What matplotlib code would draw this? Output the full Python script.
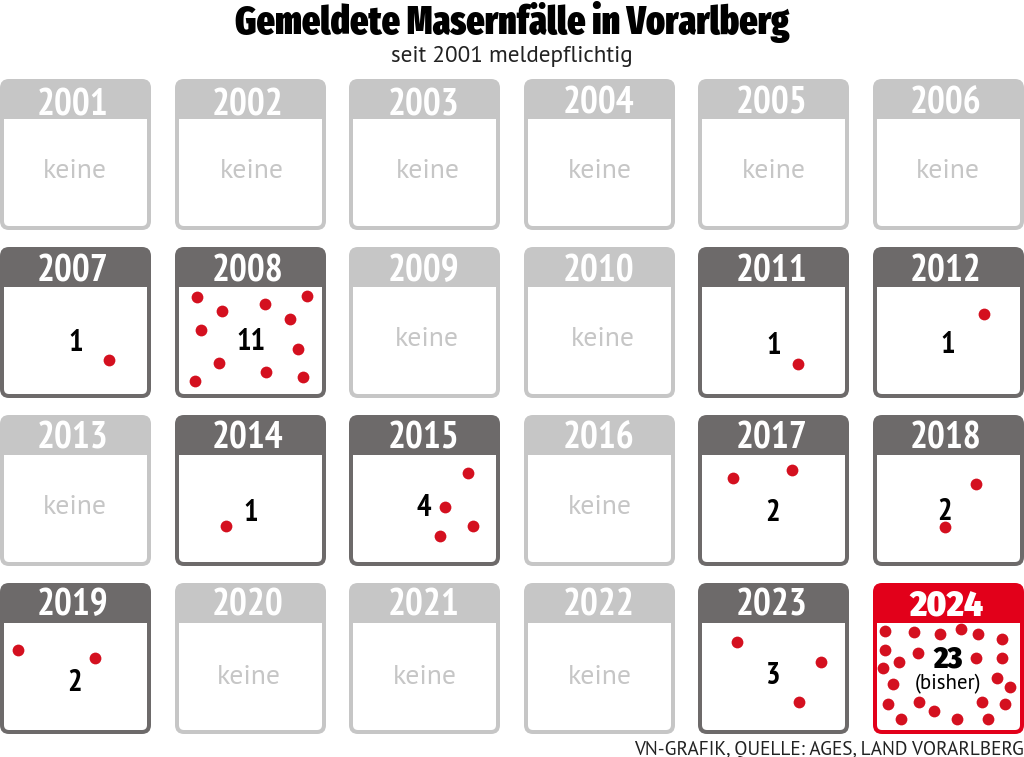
import matplotlib
matplotlib.use("Agg")
import matplotlib.pyplot as plt
from matplotlib.patches import FancyBboxPatch, Rectangle

# data
years = list(range(2001, 2025))
counts = [0,0,0,0,0,0, 1,11,0,0,1,1, 0,1,4,0,2,2, 2,0,0,0,3,23]

# dots (pixels), one list per year
dots_2007 = [(109,360)]
dots_2008 = [(197,297),(222,311),(265,304),(307,296),(290,319),(201,330),(298,349),(219,363),(266,372),(303,377),(195,381)]
dots_2011 = [(798,364)]
dots_2012 = [(984,314)]
dots_2014 = [(226,526)]
dots_2015 = [(468,473),(445,507),(473,526),(440,536)]
dots_2017 = [(733,478),(792,470)]
dots_2018 = [(976,484),(945,527)]
dots_2019 = [(18,650),(95,658)]
dots_2023 = [(737,642),(821,662),(799,702)]
dots_2024 = [(885,631),(914,632),(940,634),(961,629),(978,634),(1002,639),(885,650),(918,653),
             (976,658),(1002,658),(899,662),(883,668),(893,684),(997,678),(1010,687),(888,704),
             (919,702),(982,702),(1005,704),(934,711),(901,719),(957,719),(988,719)]
all_dots = {2007:dots_2007, 2008:dots_2008, 2011:dots_2011, 2012:dots_2012, 2014:dots_2014, 2015:dots_2015,
            2017:dots_2017, 2018:dots_2018, 2019:dots_2019, 2023:dots_2023, 2024:dots_2024}

# layout
card_left = [0, 175, 349, 524, 698, 873]
card_top = [79, 247, 415, 583]
card_w, card_h, head_h, border = 151, 151, 40, 4
year_x = [73, 248, 424, 599, 772, 946]
year_dy = [[23,23,23,21,21,21], [21,21,21,21,21,21], [20,20,20,20,20,20], [19,19,19,19,19,19]]
label_x = [75,252,428,600,774,948, 76,251,427,603,774,948, 75,251,424,600,773,945, 75,249,425,600,773,948]
label_y = [169,169,169,169,169,169, 340,339,337,337,343,342, 504,510,505,504,510,509, 680,674,674,674,673,656]

GRAY, DARK, RED = "#c6c6c6", "#6d6a6a", "#e2001a"
NARROW = ["PT Sans Narrow", "Roboto", "DejaVu Sans"]
BODY = ["PT Sans", "Lato", "DejaVu Sans"]
HEAVY = ["Fira Sans Extra Condensed", "Roboto", "DejaVu Sans"]
HEAVY_NUM = ["Fira Sans Condensed", "Roboto", "DejaVu Sans"]

fig = plt.figure(figsize=(10.24, 7.57), dpi=100)
ax = fig.add_axes([0, 0, 1, 1])
ax.set_xlim(0, 1024)
ax.set_ylim(757, 0)
ax.axis("off")

for i, year in enumerate(years):
    row, col = divmod(i, 6)
    x, y = card_left[col], card_top[row]
    n = counts[i]
    latest = year == 2024
    color = RED if latest else (DARK if n > 0 else GRAY)
    ax.add_patch(FancyBboxPatch((x+7, y+7), card_w-14, card_h-14, boxstyle="round,pad=7,rounding_size=9",
                                fc=color, ec="none", zorder=1))
    ax.add_patch(FancyBboxPatch((x+border+5, y+head_h+5), card_w-2*border-10, card_h-head_h-border-10,
                                boxstyle="round,pad=5,rounding_size=5", fc="white", ec="none", zorder=2))
    ax.add_patch(Rectangle((x+border, y+head_h), card_w-2*border, 10, fc="white", ec="none", zorder=2))
    ax.text(year_x[col], y+year_dy[row][col], str(year), color="white", fontsize=26 if latest else 27,
            fontweight=900 if latest else "bold", family=HEAVY_NUM if latest else NARROW,
            ha="center", va="center_baseline", zorder=4)
    if n == 0:
        ax.text(label_x[i], label_y[i], "keine", color=GRAY, fontsize=20, family=BODY,
                ha="center", va="center_baseline", zorder=4)
    else:
        ax.text(label_x[i], label_y[i], str(n), color="black", fontsize=22 if latest else 22,
                fontweight=900 if latest else "bold", family=HEAVY_NUM if latest else NARROW,
                ha="center", va="center_baseline", zorder=4)

for year, pts in all_dots.items():
    ax.scatter([p[0] for p in pts], [p[1] for p in pts], s=72, color="#d4101f", linewidths=0, zorder=3)

ax.text(948, 682, "(bisher)", color="black", fontsize=15, family=BODY, ha="center", va="center_baseline", zorder=4)

ax.text(512, 18, "Gemeldete Masernfälle in Vorarlberg", color="black", fontsize=27.9, fontweight=900,
        family=HEAVY, ha="center", va="center_baseline")
ax.text(512, 54, "seit 2001 meldepflichtig", color="#222222", fontsize=16.7, family=BODY,
        ha="center", va="center_baseline")
ax.text(1024, 748, "VN-GRAFIK, QUELLE: AGES, LAND VORARLBERG", color="#222222", fontsize=13.9,
        family=BODY, ha="right", va="center_baseline")

fig.savefig("out.png", dpi=100)
